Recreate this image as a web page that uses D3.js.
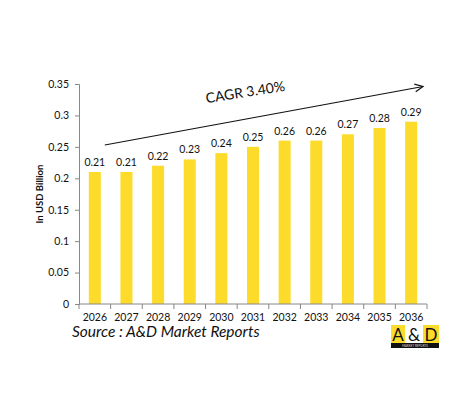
<!DOCTYPE html>
<html>
<head>
<meta charset="utf-8">
<script src="https://cdn.jsdelivr.net/npm/d3@7"></script>
<style>
  body { margin: 0; background: #fff; }
  svg text { font-family: Lato, "Open Sans", sans-serif; fill: #111; }
</style>
</head>
<body>
<div id="chart"></div>
<script>
const years = ['2026', '2027', '2028', '2029', '2030', '2031', '2032', '2033', '2034', '2035', '2036'];
const values = [0.21, 0.21, 0.22, 0.23, 0.24, 0.25, 0.26, 0.26, 0.27, 0.28, 0.29];
const yTicks = [0, 0.05, 0.1, 0.15, 0.2, 0.25, 0.3, 0.35];
const yLabel = 'In USD Billion';
const cagrText = 'CAGR 3.40%';
const sourceText = 'Source : A&D Market Reports';

const width = 473, height = 402;
const margin = {top: 84, right: 46, bottom: 98, left: 79};

const svg = d3.select('#chart').append('svg')
    .attr('width', width)
    .attr('height', height);

const x = d3.scaleBand()
    .domain(years)
    .range([margin.left, width - margin.right])
    .paddingInner(0.62)
    .paddingOuter(0.31);

const y = d3.scaleLinear()
    .domain([0, 0.35])
    .range([height - margin.bottom, margin.top]);

// bars
svg.append('g')
  .selectAll('rect')
  .data(values)
  .join('rect')
    .attr('x', (d, i) => x(years[i]))
    .attr('y', d => y(d))
    .attr('width', x.bandwidth())
    .attr('height', d => y(0) - y(d))
    .attr('fill', '#FDDB2B');

// value labels
svg.append('g')
  .selectAll('text')
  .data(values)
  .join('text')
    .attr('x', (d, i) => x(years[i]) + x.bandwidth() / 2)
    .attr('y', d => y(d) - 6)
    .attr('text-anchor', 'middle')
    .attr('font-size', 10.5)
    .text(d => d3.format('.2f')(d));

// y axis
const yAxis = svg.append('g')
    .attr('transform', `translate(${margin.left},0)`)
    .call(d3.axisLeft(y).tickValues(yTicks).tickSize(4).tickPadding(6)
      .tickFormat(d => d === 0 ? '0' : String(+d.toFixed(2))));
yAxis.selectAll('text').attr('font-size', 10.5).attr('fill', '#111');

// x axis, ticks on category boundaries
const xAxis = svg.append('g')
    .attr('transform', `translate(0,${y(0)})`)
    .call(d3.axisBottom(x).tickSize(0).tickPadding(10));
xAxis.selectAll('text').attr('font-size', 10.5).attr('fill', '#111');
xAxis.selectAll('.tick')
  .append('line')
    .attr('x1', -x.step() / 2).attr('x2', -x.step() / 2)
    .attr('y1', 0).attr('y2', 5)
    .attr('stroke', '#888');
xAxis.append('line')
    .attr('x1', width - margin.right).attr('x2', width - margin.right)
    .attr('y1', 0).attr('y2', 5)
    .attr('stroke', '#888');

svg.selectAll('.domain').attr('stroke', '#888');
svg.selectAll('.tick line').attr('stroke', '#888');
xAxis.select('.domain').attr('d', `M${margin.left},0H${width - margin.right}`);

// y label
svg.append('text')
    .attr('transform', `translate(43,${(y(0) + y(0.35)) / 2}) rotate(-90)`)
    .attr('text-anchor', 'middle')
    .attr('font-size', 9.5)
    .attr('font-weight', 'bold')
    .text(yLabel);

// CAGR arrow
const arrowStart = [x(years[0]) + 16, y(0.253)];
const arrowEnd = [width - 50, y(0.346)];
svg.append('line')
    .attr('x1', arrowStart[0]).attr('y1', arrowStart[1])
    .attr('x2', arrowEnd[0]).attr('y2', arrowEnd[1])
    .attr('stroke', '#111')
    .attr('stroke-width', 1.2);
const ang = Math.atan2(arrowEnd[1] - arrowStart[1], arrowEnd[0] - arrowStart[0]);
const head = 9;
svg.append('path')
    .attr('d', `M${arrowEnd[0] - head * Math.cos(ang - 0.45)},${arrowEnd[1] - head * Math.sin(ang - 0.45)}L${arrowEnd[0]},${arrowEnd[1]}L${arrowEnd[0] - head * Math.cos(ang + 0.45)},${arrowEnd[1] - head * Math.sin(ang + 0.45)}`)
    .attr('fill', 'none')
    .attr('stroke', '#111')
    .attr('stroke-width', 1.2);

svg.append('text')
    .attr('transform', `translate(246,97) rotate(-9)`)
    .attr('text-anchor', 'middle')
    .attr('font-size', 14)
    .text(cagrText);

// source
svg.append('text')
    .attr('x', 72)
    .attr('y', 337)
    .attr('font-size', 15.5)
    .attr('font-style', 'italic')
    .attr('fill', '#222')
    .text(sourceText);

// logo
const logo = svg.append('g').attr('transform', 'translate(391,325)');
logo.append('rect').attr('x', 0).attr('y', 0).attr('width', 14).attr('height', 18).attr('fill', '#FDDB2B');
logo.append('rect').attr('x', 32).attr('y', 0).attr('width', 16).attr('height', 18).attr('fill', '#FDDB2B');
logo.append('rect').attr('x', 0).attr('y', 18).attr('width', 48).attr('height', 5).attr('fill', '#111');
logo.append('text').attr('x', 7).attr('y', 15.5).attr('text-anchor', 'middle')
    .attr('font-size', 17).attr('font-family', 'Liberation Sans, Arial, sans-serif').text('A');
logo.append('text').attr('x', 23).attr('y', 15.5).attr('text-anchor', 'middle')
    .attr('font-size', 17).attr('font-family', 'Liberation Sans, Arial, sans-serif').text('&');
logo.append('text').attr('x', 40).attr('y', 15.5).attr('text-anchor', 'middle')
    .attr('font-size', 17).attr('font-family', 'Liberation Sans, Arial, sans-serif').text('D');
logo.append('text').attr('x', 24).attr('y', 22).attr('text-anchor', 'middle')
    .attr('font-size', 3).style('fill', '#ddd').text('MARKET REPORTS');
</script>
</body>
</html>
